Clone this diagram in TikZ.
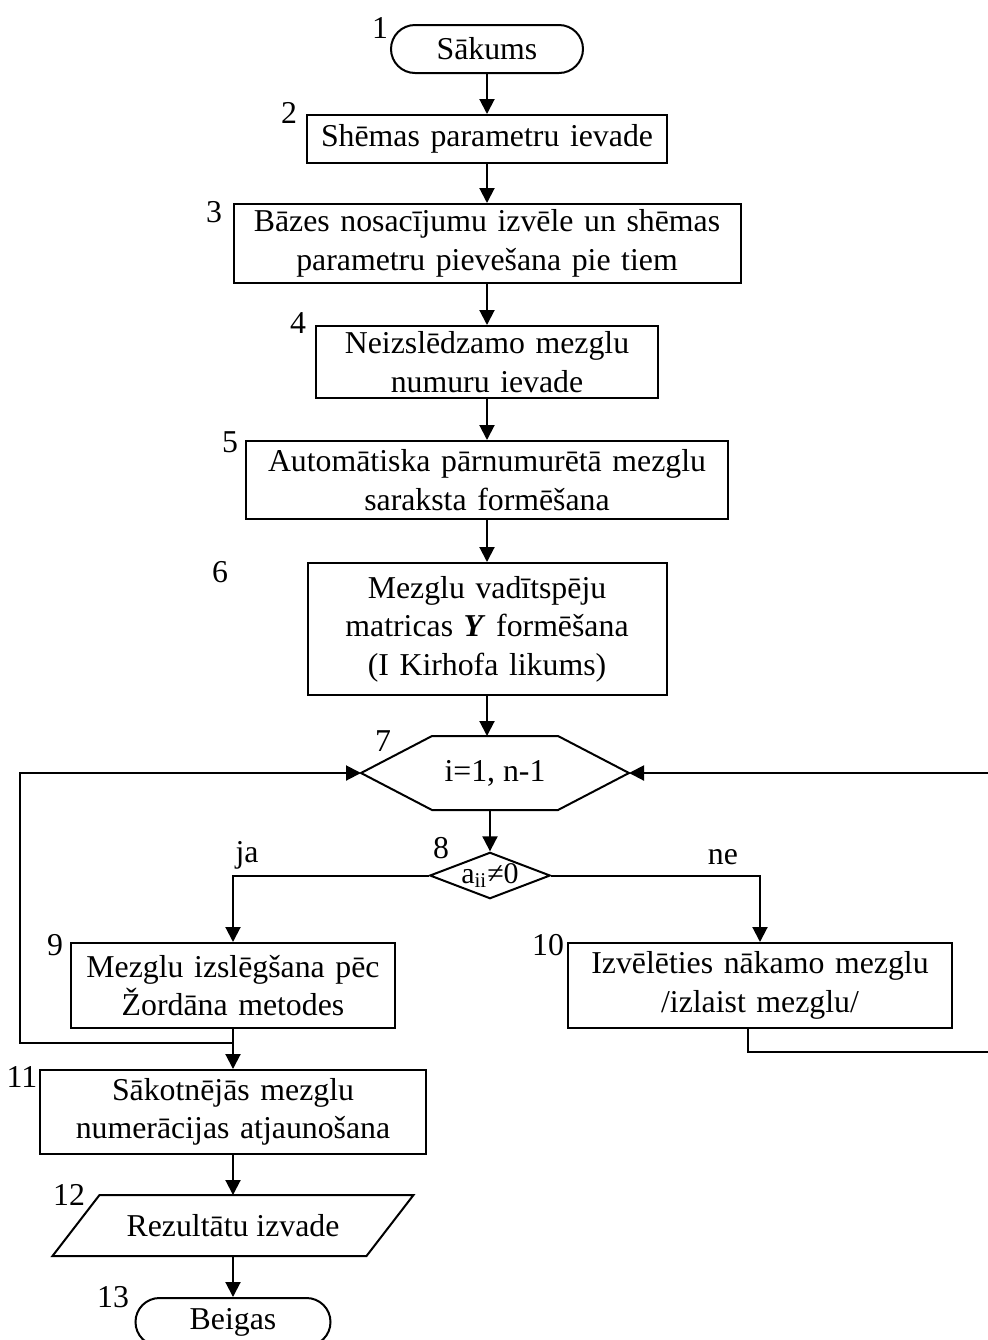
\documentclass[tikz,border=0pt]{standalone}
\usepackage{fontspec}
\setmainfont{Liberation Serif}
\usetikzlibrary{shapes.geometric,arrows.meta}
\tikzstyle{line} = [draw, -{Triangle[length=7.5pt, width=7.5pt]}]
\tikzstyle{term} = [rectangle, draw, rounded corners=12pt, minimum width=96pt, minimum height=24pt, inner sep=0pt]
\tikzstyle{block} = [rectangle, draw, align=center, inner xsep=0pt, inner ysep=1pt]
\tikzstyle{hexbox} = [rectangle, minimum width=133pt, minimum height=36pt, inner sep=0pt]
\tikzstyle{decide} = [diamond, draw, aspect=2.6, inner sep=0pt, font=\fontsize{15}{17}\selectfont]
\tikzstyle{iobox} = [rectangle, minimum width=156pt, minimum height=29.5pt, inner sep=0pt]
\tikzstyle{num} = [inner sep=0pt]

\begin{document}
\begin{tikzpicture}[x=0.5pt, y=-0.5pt, line width=1pt, every node/.style={font=\fontsize{15.9}{19.2}\selectfont}]
	\useasboundingbox (0,0) rectangle (988,1340);
	
	\node [term] (start) at (487,49) {Sākums};
	\node [block, below of = start, node distance = 45pt, text width=180pt, minimum height=24pt] (b2) {Shēmas parametru ievade};
	\node [block, below of = b2, node distance = 52.25pt, text width=253.5pt, minimum height=39.5pt] (b3) {Bāzes nosacījumu izvēle un shēmas\\parametru pievešana pie tiem};
	\node [block, below of = b3, node distance = 59.25pt, text width=171pt, minimum height=36pt] (b4) {Neizslēdzamo mezglu\\numuru ievade};
	\node [block, below of = b4, node distance = 59pt, text width=241pt, minimum height=39pt] (b5) {Automātiska pārnumurētā mezglu\\saraksta formēšana};
	\node [block, below of = b5, node distance = 74.5pt, text width=179.5pt, minimum height=66pt] (b6) {Mezglu vadītspēju\\matricas \textbf{\textit{Y}} formēšana\\(I Kirhofa likums)};
	\node [hexbox, below of = b6, node distance = 72pt, xshift=4pt] (hx) {i=1, n-1};
	\draw (hx.west) -- ([xshift=35.5pt]hx.north west) -- ([xshift=-35.5pt]hx.north east) -- (hx.east) -- ([xshift=-35.5pt]hx.south east) -- ([xshift=35.5pt]hx.south west) -- cycle;
	\node [decide, below of = hx, node distance = 51.25pt, xshift=-2.5pt] (dm) {a\textsubscript{ii}≠0};
	
	\node [block, text width=162pt, minimum height=42.5pt] (b9) at (233,985.5) {Mezglu izslēgšana pēc\\Žordāna metodes};
	\node [block, text width=192pt, minimum height=42.5pt] (b10) at (760,985.5) {Izvēlēties nākamo mezglu\\/izlaist mezglu/};
	\node [block, below of = b9, node distance = 63.25pt, text width=193pt, minimum height=42pt] (b11) {Sākotnējās mezglu\\numerācijas atjaunošana};
	\node [iobox, below of = b11, node distance = 56.75pt] (out) {Rezultātu izvade};
	\draw ([xshift=-11.75pt]out.south west) -- ([xshift=11.75pt]out.north west) -- ([xshift=11.75pt]out.north east) -- ([xshift=-11.75pt]out.south east) -- cycle;
	\node [term, below of = out, node distance = 48.25pt, minimum width=97.5pt] (stop) {Beigas};
	
	% numbers of the blocks
	\node [num] (n1) at (380,28) {1};
	\node [num] (n2) at (289,113) {2};
	\node [num] (n3) at (214,212) {3};
	\node [num] (n4) at (298,323) {4};
	\node [num] (n5) at (230,442) {5};
	\node [num] (n6) at (220,572) {6};
	\node [num] (n7) at (383,741) {7};
	\node [num] (n8) at (441,848) {8};
	\node [num] (n9) at (55,945) {9};
	\node [num] (n10) at (548,945) {10};
	\node [num] (n11) at (22,1077) {11};
	\node [num] (n12) at (69,1195) {12};
	\node [num] (n13) at (113,1297) {13};
	
	\node [num] (lja) at (247,855) {ja};
	\node [num] (lne) at (723,857) {ne};
	
	\path [line] (start) -- (b2);
	\path [line] (b2) -- (b3);
	\path [line] (b3) -- (b4);
	\path [line] (b4) -- (b5);
	\path [line] (b5) -- (b6);
	\path [line] (b6) -- (b6 |- hx.north);
	\path [line] (hx.south -| dm.north) -- (dm.north);
	\path [line] (dm.west) -| (b9.north);
	\path [line] (dm.east) -| (b10.north);
	\path [line] (b9) -- (b11);
	\path [line] (b11) -- (out);
	\path [line] (out) -- (stop);
	
	% loops back to the cycle
	\coordinate (jl) at (233,1043);
	\coordinate (cl) at (20,1043);
	\coordinate (cr) at (990,1052);
	\path [line] (jl) -- (cl) |- (hx.west);
	\path [line] ([xshift=-6pt]b10.south) |- (cr) |- (hx.east);
\end{tikzpicture}
\end{document}
